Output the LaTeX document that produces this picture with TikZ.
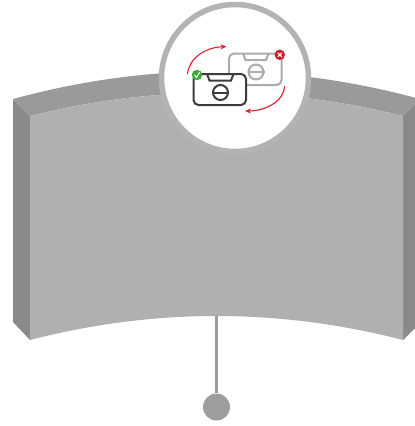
\documentclass[tikz,border=0pt]{standalone}
\usepackage{xcolor}
\usetikzlibrary{arrows.meta,positioning}
\definecolor{wallfront}{HTML}{B0B0B0}
\definecolor{walltop}{HTML}{9A9A9A}
\definecolor{wallside}{HTML}{8A8A8A}
\definecolor{stemgray}{HTML}{9D9D9D}
\definecolor{ringgray}{HTML}{B3B3B3}
\definecolor{cameradark}{HTML}{3C3C3C}
\definecolor{cameralight}{HTML}{ABABAB}
\definecolor{swapred}{HTML}{DD1C2E}
\definecolor{okgreen}{HTML}{3DAA35}
\definecolor{badred}{HTML}{C8202F}

\begin{document}
\begin{tikzpicture}[
		x=1pt, y=-1pt,
		>=Stealth,
		stem/.style={draw=stemgray, line width=3pt},
		ball/.style={circle, fill=stemgray, minimum size=27pt, inner sep=0pt},
		ring/.style={circle, draw=ringgray, fill=white, line width=5.5pt, minimum size=147pt, inner sep=0pt},
		body/.style={line width=2pt, rounded corners=5pt},
		lens/.style={circle, draw, line width=2pt, minimum size=15pt, inner sep=0pt},
		badge/.style={circle, minimum size=10.5pt, inner sep=0pt},
		swap/.style={->, draw=swapred, line width=1.1pt, >={Stealth[length=6pt,width=5pt]}},
		tick/.style={draw=white, line width=1.1pt, line cap=round}
		]
		\clip (0,0) rectangle (415,426);

		% curved wall
		\fill[walltop] (13,99) .. controls (149,62) and (284,62) .. (420,99) -- (403,116)
			.. controls (279,85) and (154,85) .. (30,116) -- cycle;
		\fill[wallside] (13,99) -- (30,116) -- (30,340) -- (13,322) -- cycle;
		\fill[wallside] (420,99) -- (403,116) -- (403,340) -- (420,323) -- cycle;
		\fill[wallfront] (30,116) .. controls (154,85) and (279,85) .. (403,116) -- (403,340)
			.. controls (279,308) and (154,308) .. (30,340) -- cycle;

		% stem
		\coordinate (stemtop) at (216.5,316);
		\node[ball] (end) at (216.5,407) {};
		\draw[stem] (stemtop) -- (end);

		\node[ring] (lensring) at (235,78) {};

		% grey camera
		\draw[cameralight, body] (229,53.5) rectangle (281.5,85);
		\draw[cameralight, line width=2pt] (243,53.5) -- (245.5,60) -- (266,60) -- (268.5,53.5);
		\node[lens, draw=cameralight] (lens2) at (256,72) {};
		\draw[cameralight, line width=2pt] (lens2.west) -- (lens2.east);

		% dark camera
		\draw[cameradark, body, fill=white] (193.5,74) rectangle (246,105);
		\draw[cameradark, line width=2pt] (207,74) -- (209.5,80.5) -- (231,80.5) -- (233.5,74);
		\node[lens, draw=cameradark] (lens1) at (220.5,92.5) {};
		\draw[cameradark, line width=2pt] (lens1.west) -- (lens1.east);

		% swap arrows
		\coordinate (swap1a) at (187.5,74);
		\coordinate (swap1b) at (226.5,46.7);
		\coordinate (swap2a) at (284.7,86);
		\coordinate (swap2b) at (245,111);
		\draw[swap] (swap1a) .. controls (189,58) and (206,47) .. (swap1b);
		\draw[swap] (swap2a) .. controls (284,101) and (266,111) .. (swap2b);

		% badges
		\node[badge, fill=okgreen] (okbadge) at (197,75) {};
		\draw[tick] (194.8,75.2) -- (196.5,77.4) -- (199.4,72.6);
		\node[badge, fill=badred] (badbadge) at (279.8,54.8) {};
		\draw[tick] (277.9,52.9) -- (281.7,56.7);
		\draw[tick] (277.9,56.7) -- (281.7,52.9);
	\end{tikzpicture}
\end{document}
